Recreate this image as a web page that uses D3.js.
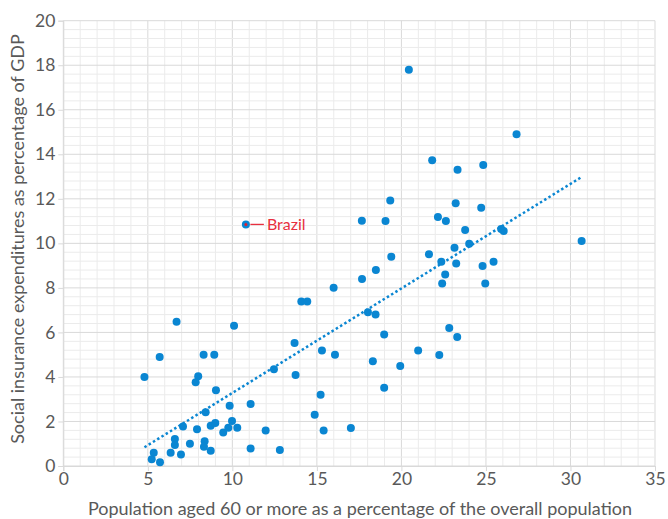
<!DOCTYPE html>
<html><head><meta charset="utf-8">
<script src="https://cdn.jsdelivr.net/npm/d3@7"></script>
<style>body{margin:0;background:#fff}svg{display:block}text{font-family:Lato,"Open Sans",sans-serif}</style>
</head><body>
<svg id="c" width="668" height="519"></svg>
<script>
const xValues = [4.8,6.7,5.7,10.1,8.3,8.93,7.98,7.83,9.03,8.42,9.84,11.08,7.08,7.91,8.72,8.99,9.46,9.76,9.98,10.29,11.97,6.6,6.6,7.49,8.36,8.32,8.72,11.08,12.81,5.35,5.23,5.72,6.35,6.96,12.46,13.68,13.74,14.08,14.43,15.99,15.3,16.07,15.22,14.87,15.4,17.67,18.49,18.02,18.47,18.98,18.31,19.93,20.99,22.24,22.83,23.3,18.98,17.01,22.36,22.59,22.41,23.24,24.8,24.96,25.45,20.44,26.81,21.82,23.32,24.84,19.34,17.66,19.06,22.16,22.63,23.21,24.72,23.77,25.9,26.05,24.01,23.14,30.66,19.4,21.63,10.8];
const yValues = [4.0,6.48,4.9,6.3,5.0,5.0,4.03,3.76,3.4,2.41,2.71,2.78,1.77,1.65,1.81,1.93,1.51,1.72,2.02,1.72,1.6,1.21,0.94,1.0,1.11,0.87,0.69,0.79,0.72,0.6,0.3,0.17,0.6,0.52,4.34,5.52,4.09,7.39,7.39,8.01,5.19,5.0,3.2,2.3,1.6,8.4,8.8,6.9,6.81,5.91,4.71,4.49,5.19,4.98,6.2,5.79,3.52,1.71,9.17,8.6,8.2,9.1,8.98,8.2,9.17,17.8,14.9,13.73,13.31,13.52,11.93,11.02,11.0,11.18,11.0,11.8,11.6,10.6,10.65,10.55,9.98,9.8,10.1,9.4,9.51,10.85];
const trendX = [4.8, 30.66];
const trendY = [0.84, 12.98];
const xTicks = [0,5,10,15,20,25,30,35];
const yTicks = [0,2,4,6,8,10,12,14,16,18,20];
const highlight = {name:"Brazil", x:10.8, y:10.85};
const xTitle = "Population aged 60 or more as a percentage of the overall population";
const yTitle = "Social insurance expenditures as percentage of GDP";

const svg = d3.select("#c");
const L=63.3,R=655,T=20.7,B=466;
const x = d3.scaleLinear().domain([0,35]).range([L,R]);
const y = d3.scaleLinear().domain([0,20]).range([B,T]);
const blue = "#0a86d2", grey="#595959";

// grid
const g = svg.append("g");
g.selectAll(".vx").data(d3.range(0,36,1)).enter().append("line")
 .attr("x1",d=>x(d)).attr("x2",d=>x(d)).attr("y1",T).attr("y2",B)
 .attr("stroke",d=>d%5===0?"#d9d9d9":"#ebebeb").attr("stroke-width",1);
g.selectAll(".hy").data(d3.range(0,51,1).map(i=>i*0.4)).enter().append("line")
 .attr("y1",d=>y(d)).attr("y2",d=>y(d)).attr("x1",L).attr("x2",R)
 .attr("stroke",d=>Math.abs(d/2-Math.round(d/2))<1e-6?"#d9d9d9":"#ebebeb").attr("stroke-width",1);

// axes
const yAxis = d3.axisLeft(y).tickValues(yTicks).tickSize(5).tickPadding(3);
const ya = svg.append("g").attr("transform",`translate(${L},0)`).call(yAxis);
ya.select(".domain").attr("stroke","#d9d9d9");
ya.selectAll(".tick line").attr("stroke","#d9d9d9");
ya.selectAll("text").attr("fill",grey).attr("font-size",17.5).style("font-family","Lato,sans-serif");
const xAxis = d3.axisBottom(x).tickValues(xTicks).tickSize(5).tickPadding(2);
const xa = svg.append("g").attr("transform",`translate(0,${B})`).call(xAxis);
xa.select(".domain").attr("stroke","#d9d9d9");
xa.selectAll(".tick line").attr("stroke","#d9d9d9");
xa.selectAll("text").attr("fill",grey).attr("font-size",17.5).style("font-family","Lato,sans-serif");

// trend line
svg.append("line").attr("x1",x(trendX[0])).attr("y1",y(trendY[0])).attr("x2",x(trendX[1])).attr("y2",y(trendY[1]))
 .attr("stroke",blue).attr("stroke-width",2.5).attr("stroke-dasharray","2.5,2.5");

// points
svg.append("g").selectAll("circle").data(xValues.map((v,i)=>[v,yValues[i]])).enter().append("circle")
 .attr("cx",d=>x(d[0])).attr("cy",d=>y(d[1])).attr("r",4).attr("fill",blue);

// highlight
svg.append("circle").attr("cx",x(highlight.x)).attr("cy",y(highlight.y)).attr("r",1.5).attr("fill","#e02030");
svg.append("line").attr("x1",x(highlight.x)+4.5).attr("x2",x(highlight.x)+18).attr("y1",y(highlight.y)).attr("y2",y(highlight.y))
 .attr("stroke","#e8303f").attr("stroke-width",1.3);
svg.append("text").attr("x",x(highlight.x)+21).attr("y",y(highlight.y)+5.5).attr("fill","#e8303f").attr("font-size",16).text(highlight.name);

// titles
svg.append("text").attr("x",360).attr("y",515).attr("text-anchor","middle").attr("fill",grey).attr("font-size",18).text(xTitle);
svg.append("text").attr("transform",`translate(24,239) rotate(-90)`).attr("text-anchor","middle").attr("fill",grey).attr("font-size",18).text(yTitle);
</script>
</body></html>
